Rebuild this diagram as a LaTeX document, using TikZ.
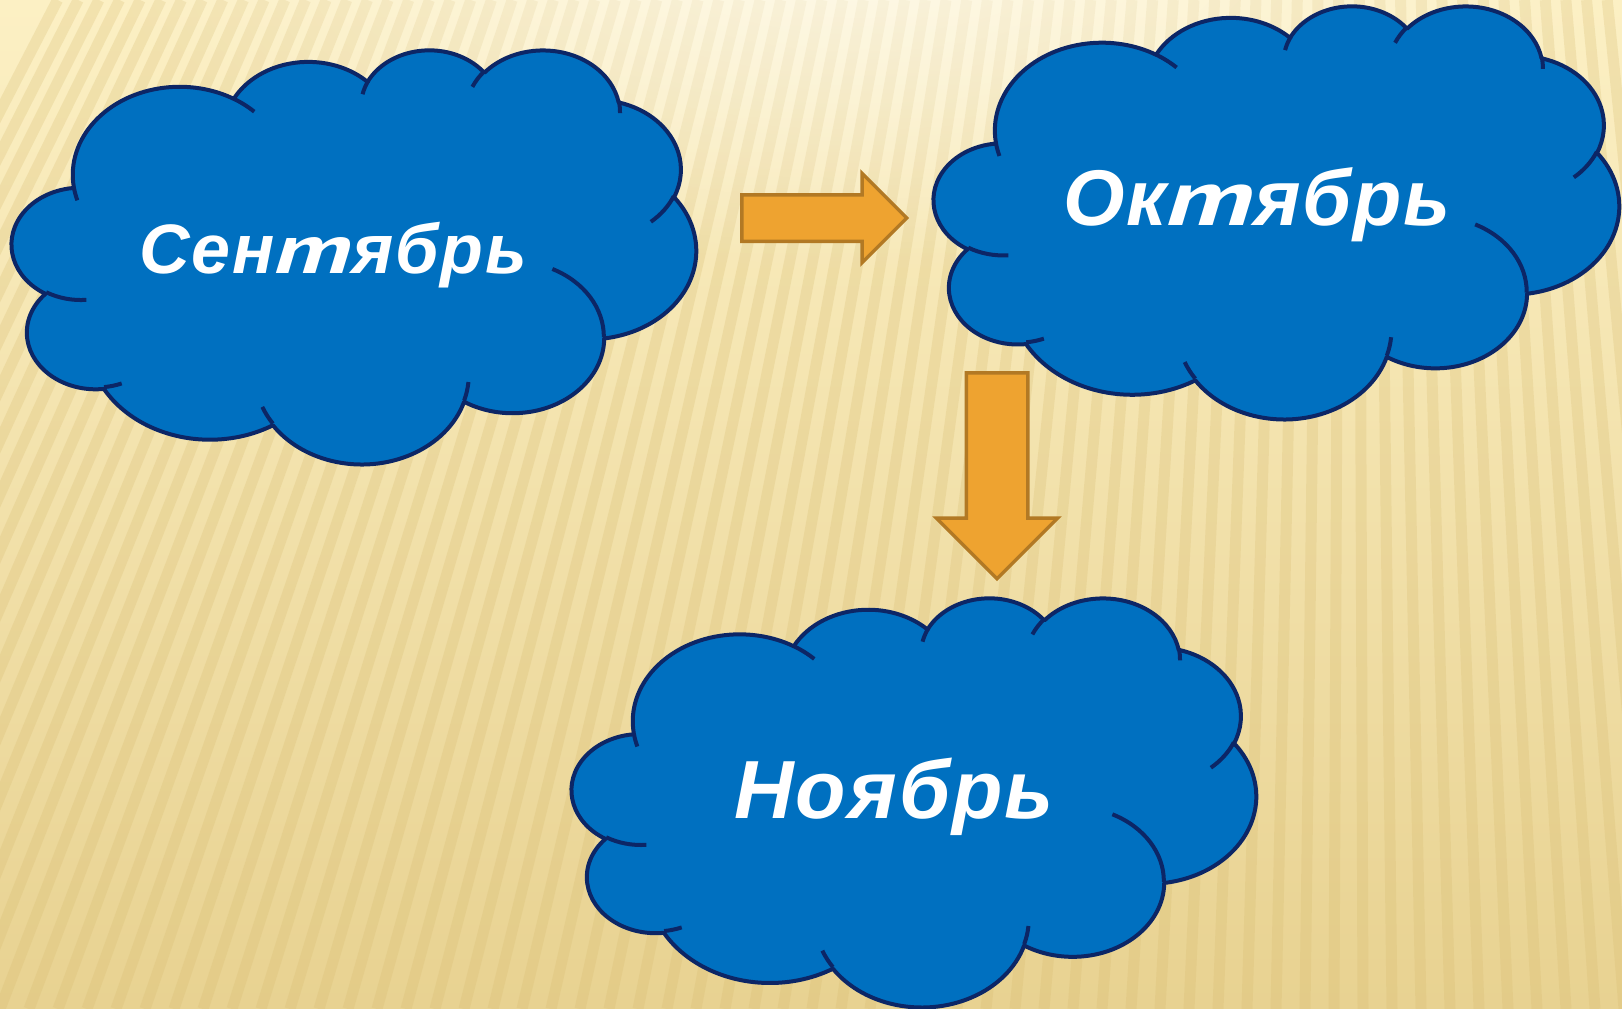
\documentclass[tikz,border=0pt]{standalone}
\usepackage{fontspec}
\setmainfont{Liberation Sans}
\newfontfamily\cursivete{PT Sans}[FakeStretch=1.45]
\usepackage{tikz}
\usepackage{xcolor}
\usetikzlibrary{arrows.meta, shapes.arrows, fadings}

\definecolor{cloudblue}{RGB}{0,112,192}
\definecolor{cloudline}{RGB}{12,38,102}
\definecolor{arrowfill}{RGB}{238,163,48}
\definecolor{arrowline}{RGB}{178,121,36}
\definecolor{bgtop}{RGB}{252,240,196}
\definecolor{bgbottom}{RGB}{232,210,145}
\definecolor{stripe}{RGB}{214,186,110}

\tikzfading[name=glow, inner color=transparent!0, outer color=transparent!100]

% visual angle -> parametric angle of an ellipse
\pgfmathdeclarefunction{parang}{3}{%
  \pgfmathparse{(#1)+Mod(atan2((#2)*sin(#1),(#3)*cos(#1))-(#1)+180,360)-180}}
% rx, ry, start, sweep
\newcommand\cldarc[4]{arc[start angle={parang(#3,#1,#2)}, end angle={parang(#3+#4,#1,#2)}, x radius=#1, y radius=#2]}
% italic te
\newcommand\te{{\cursivete т}}

\begin{document}
\begin{tikzpicture}[>=Stealth, x=1pt, y=-1pt,
    cloudline/.style={draw=cloudline, line width=4pt, line join=round},
    month/.style={text=white, anchor=base,
        font=\fontsize{#1}{#1}\selectfont\bfseries\itshape\addfontfeature{LetterSpace=2.5}},
    blockarrow/.style={single arrow, draw=arrowline, fill=arrowfill, line width=3.5pt,
        single arrow tip angle=90, inner xsep=0pt, anchor=tail},
    cloud/.pic={
        \filldraw[cloudline, fill=cloudblue] (39.00,143.70)
            \cldarc{67.53}{91.90}{-190.4875}{123.7805}
            \cldarc{53.33}{72.67}{-144.1024}{89.9452}
            \cldarc{43.65}{59.45}{-145.8079}{99.7230}
            \cldarc{48.57}{65.95}{-130.9861}{117.2417}
            \cldarc{53.33}{72.73}{-78.7089}{109.0269}
            \cldarc{67.75}{92.20}{-46.2673}{130.2690}
            \cldarc{57.85}{78.67}{0.6250}{114.0333}
            \cldarc{67.52}{92.15}{22.4516}{115.1726}
            \cldarc{77.20}{105.43}{66.2426}{75.7110}
            \cldarc{43.60}{59.18}{-274.9421}{146.7356}
            \cldarc{43.45}{59.45}{-246.8285}{152.5189} -- cycle;
        % inner arcs
        \draw[cloudline]
            (46.93,261.77) \cldarc{43.45}{59.45}{86.7420}{26.4295}
            (69.28,348.99) \cldarc{43.60}{59.18}{73.6105}{11.4475}
            (164.78,390.90) \cldarc{67.52}{92.15}{137.6242}{14.0811}
            (288.27,347.51) \cldarc{67.52}{92.15}{6.4533}{15.9984}
            (341.29,229.54) \cldarc{57.85}{78.67}{-70.2924}{70.9174}
            (417.98,153.54) \cldarc{53.33}{72.73}{30.3180}{27.7515}
            (383.24,54.26) \cldarc{48.57}{65.95}{-13.7443}{14.8589}
            (290.78,39.52) \cldarc{48.57}{65.95}{-149.1815}{18.1954}
            (221.41,47.20) \cldarc{43.65}{59.45}{-163.4943}{17.6864}
            (140.00,51.92) \cldarc{67.53}{91.90}{-66.7070}{12.3194}
            (41.27,157.89) \cldarc{67.53}{91.90}{157.6544}{11.8582};
    }]
    % Background
    \fill[top color=bgtop, bottom color=bgbottom] (0,0) rectangle (1622,1009);
    \begin{scope}
        \clip (0,0) rectangle (1622,1009);
        \foreach \i in {-16,...,60}
            \draw[stripe, line width=11pt, opacity=.25]
                ({29*\i},1009) -- ({29*\i+(1350-29*\i)*0.2875},0);
        \fill[white, opacity=.65, path fading=glow] (860,-60) ellipse (760 and 330);
    \end{scope}
    \useasboundingbox (0,0) rectangle (1622,1009);

    % Clouds
    \pic[xscale=684/432, yscale=414/432] at (12,49) {cloud};
    \pic[xscale=685/432, yscale=413/432] at (934,5) {cloud};
    \pic[xscale=684/432, yscale=409/432] at (572,597) {cloud};

    \node[month=70] (sep) at (333,273) {Сен\te ябрь};
    \node[month=79] (oct) at (1257,225) {Ок\te ябрь};
    \node[month=82.5] (nov) at (894,818) {Ноябрь};

    % Arrows
    \node[blockarrow, inner ysep=21.5pt, single arrow head extend=21.5pt,
        minimum height=165pt] (toOct) at (740,218) {};
    \node[blockarrow, inner ysep=29pt, single arrow head extend=30pt,
        minimum height=206pt, rotate=-90] (toNov) at (997,371) {};
\end{tikzpicture}
\end{document}
